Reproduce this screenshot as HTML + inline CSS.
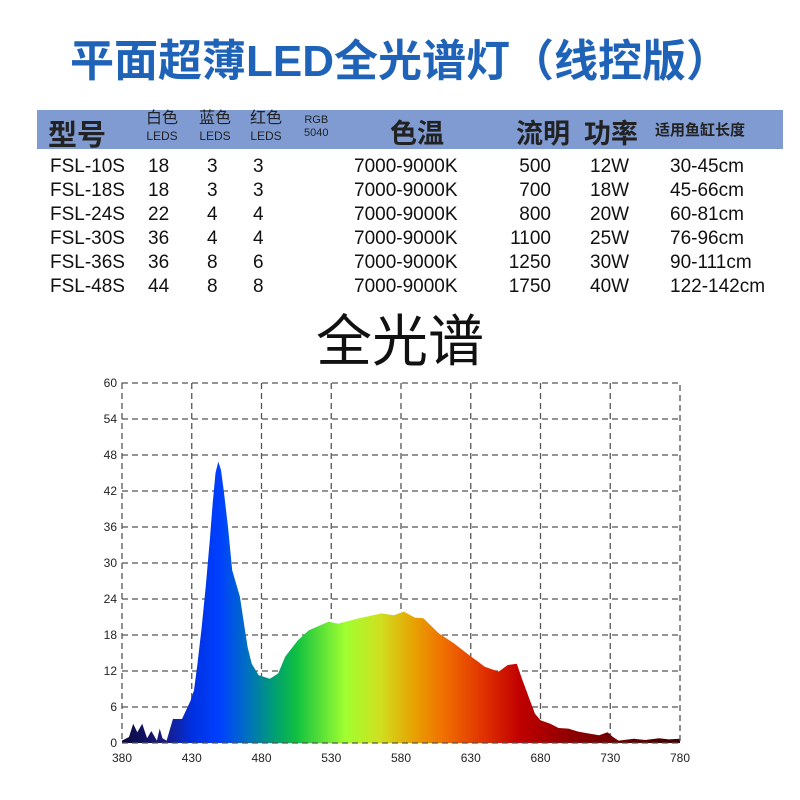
<!DOCTYPE html>
<html><head><meta charset="utf-8"><style>
body{margin:0;width:800px;height:800px;background:#fff;position:relative;overflow:hidden;font-family:"Liberation Sans","Noto Sans CJK SC",sans-serif}
.t{position:absolute;white-space:nowrap}
.r{position:absolute;font-size:19px;color:#111;white-space:nowrap}
</style></head><body>
<div class="t" style="left:0;width:800px;text-align:center;top:25px;font-size:44px;font-weight:bold;color:#1f63b8;letter-spacing:0px">平面超薄LED全光谱灯（线控版）</div>
<div style="position:absolute;left:37px;top:110px;width:746px;height:39px;background:#7f9bd2"></div>
<div class="t" style="left:48px;top:112px;font-size:29px;font-weight:bold;color:#222">型号</div>
<div class="t" style="left:146px;top:110px;font-size:16px;color:#222;line-height:17px;text-align:center">白色<br><span style="font-size:12px">LEDS</span></div>
<div class="t" style="left:199px;top:110px;font-size:16px;color:#222;line-height:17px;text-align:center">蓝色<br><span style="font-size:12px">LEDS</span></div>
<div class="t" style="left:250px;top:110px;font-size:16px;color:#222;line-height:17px;text-align:center">红色<br><span style="font-size:12px">LEDS</span></div>
<div class="t" style="left:304px;top:114px;font-size:11px;color:#222;line-height:13px;text-align:center">RGB<br>5040</div>
<div class="t" style="left:390px;top:112px;font-size:27px;font-weight:bold;color:#222">色温</div>
<div class="t" style="left:516px;top:112px;font-size:27px;font-weight:bold;color:#222">流明</div>
<div class="t" style="left:584px;top:112px;font-size:27px;font-weight:bold;color:#222">功率</div>
<div class="t" style="left:655px;top:119px;font-size:15px;font-weight:bold;color:#222">适用鱼缸长度</div>
<div id="rows"></div>
<div class="t" style="left:0;width:800px;text-align:center;top:297px;font-size:56px;color:#111">全光谱</div>
<svg style="position:absolute;left:0;top:0" width="800" height="800">
<defs><linearGradient id="g" x1="122" x2="680" gradientUnits="userSpaceOnUse">
<stop offset="0" stop-color="#0a0a40"/><stop offset="0.075" stop-color="#1a1a80"/><stop offset="0.125" stop-color="#0030e0"/><stop offset="0.175" stop-color="#0040ff"/><stop offset="0.225" stop-color="#0070c0"/><stop offset="0.275" stop-color="#00a070"/><stop offset="0.3125" stop-color="#10c040"/><stop offset="0.4" stop-color="#a0ff30"/><stop offset="0.4625" stop-color="#d0e020"/><stop offset="0.525" stop-color="#e8a000"/><stop offset="0.575" stop-color="#f07000"/><stop offset="0.65" stop-color="#e03000"/><stop offset="0.7125" stop-color="#c00000"/><stop offset="0.8" stop-color="#900000"/><stop offset="1" stop-color="#400000"/></linearGradient></defs>
<g id="grid" stroke="#555" stroke-width="1.3" stroke-dasharray="6,4" fill="none"></g>
<path id="sp" fill="url(#g)"/>
<rect x="122" y="383" width="558" height="360" fill="none" stroke="#555" stroke-width="1.3" stroke-dasharray="6,4"/>
<g id="lab" font-family="Liberation Sans, sans-serif" font-size="12" fill="#222"></g>
</svg>
<script>
var rows=[["FSL-10S","18","3","3","500","12W","30-45cm"],["FSL-18S","18","3","3","700","18W","45-66cm"],["FSL-24S","22","4","4","800","20W","60-81cm"],["FSL-30S","36","4","4","1100","25W","76-96cm"],["FSL-36S","36","8","6","1250","30W","90-111cm"],["FSL-48S","44","8","8","1750","40W","122-142cm"]];
var h="";rows.forEach(function(r,i){var y=156+i*24;
h+='<div class="r" style="left:50px;top:'+y+'px">'+r[0]+'</div><div class="r" style="left:148px;top:'+y+'px">'+r[1]+'</div><div class="r" style="left:207px;top:'+y+'px">'+r[2]+'</div><div class="r" style="left:253px;top:'+y+'px">'+r[3]+'</div><div class="r" style="left:354px;top:'+y+'px">7000-9000K</div><div class="r" style="right:249px;top:'+y+'px">'+r[4]+'</div><div class="r" style="left:590px;top:'+y+'px">'+r[5]+'</div><div class="r" style="left:670px;top:'+y+'px">'+r[6]+'</div>';});
document.getElementById("rows").innerHTML=h;
function X(n){return 122+(n-380)/400*558}function Y(v){return 743-v*6}
var g="",l="";
for(var i=1;i<8;i++){var x=X(380+50*i);g+='<line x1="'+x+'" y1="383" x2="'+x+'" y2="743"/>';}
for(var j=1;j<10;j++){var y=Y(6*j);g+='<line x1="122" y1="'+y+'" x2="680" y2="'+y+'"/>';}
for(var j=0;j<=10;j++){l+='<text x="117" y="'+(Y(6*j)+4)+'" text-anchor="end">'+(6*j)+'</text>';}
for(var i=0;i<=8;i++){l+='<text x="'+X(380+50*i)+'" y="762" text-anchor="middle">'+(380+50*i)+'</text>';}
document.getElementById("grid").innerHTML=g;document.getElementById("lab").innerHTML=l;
var d=[[380,0.4],[385,1],[388,3.2],[391,1.8],[394.5,3.2],[398,0.8],[401,2],[403,1.2],[405,0.4],[407,2.4],[409,0.8],[412,0.4],[416.5,4],[423,4],[429,7],[431.6,8.8],[434,13],[437,19],[440,26],[443,34],[445,40],[447,45],[449,46.9],[451,45.5],[453,42],[456,36],[459,28.8],[464.5,24.4],[468,19],[470,16],[473,13.2],[478,11.3],[486,10.7],[492,11.6],[497,14.4],[506,17.1],[514,18.8],[528,20.2],[535,19.9],[550,20.8],[566,21.6],[575,21.3],[582,21.9],[590,20.9],[596,20.8],[607,18.3],[618,16.6],[629,14.6],[635,13.6],[640,12.7],[650,11.9],[656.5,13],[663,13.2],[667,10.5],[676,4.9],[680,3.8],[687,3.2],[693,2.5],[700,2.4],[707,1.9],[714,1.6],[722,1.3],[728,1.8],[732,1],[736,0.4],[747,0.7],[755,0.5],[765,0.8],[772,0.6],[780,0.7]];
var p="M"+X(380)+","+Y(0);d.forEach(function(q){p+=" L"+X(q[0]).toFixed(1)+","+Y(q[1]).toFixed(1)});p+=" L"+X(780)+","+Y(0)+" Z";
document.getElementById("sp").setAttribute("d",p);
</script>
</body></html>
